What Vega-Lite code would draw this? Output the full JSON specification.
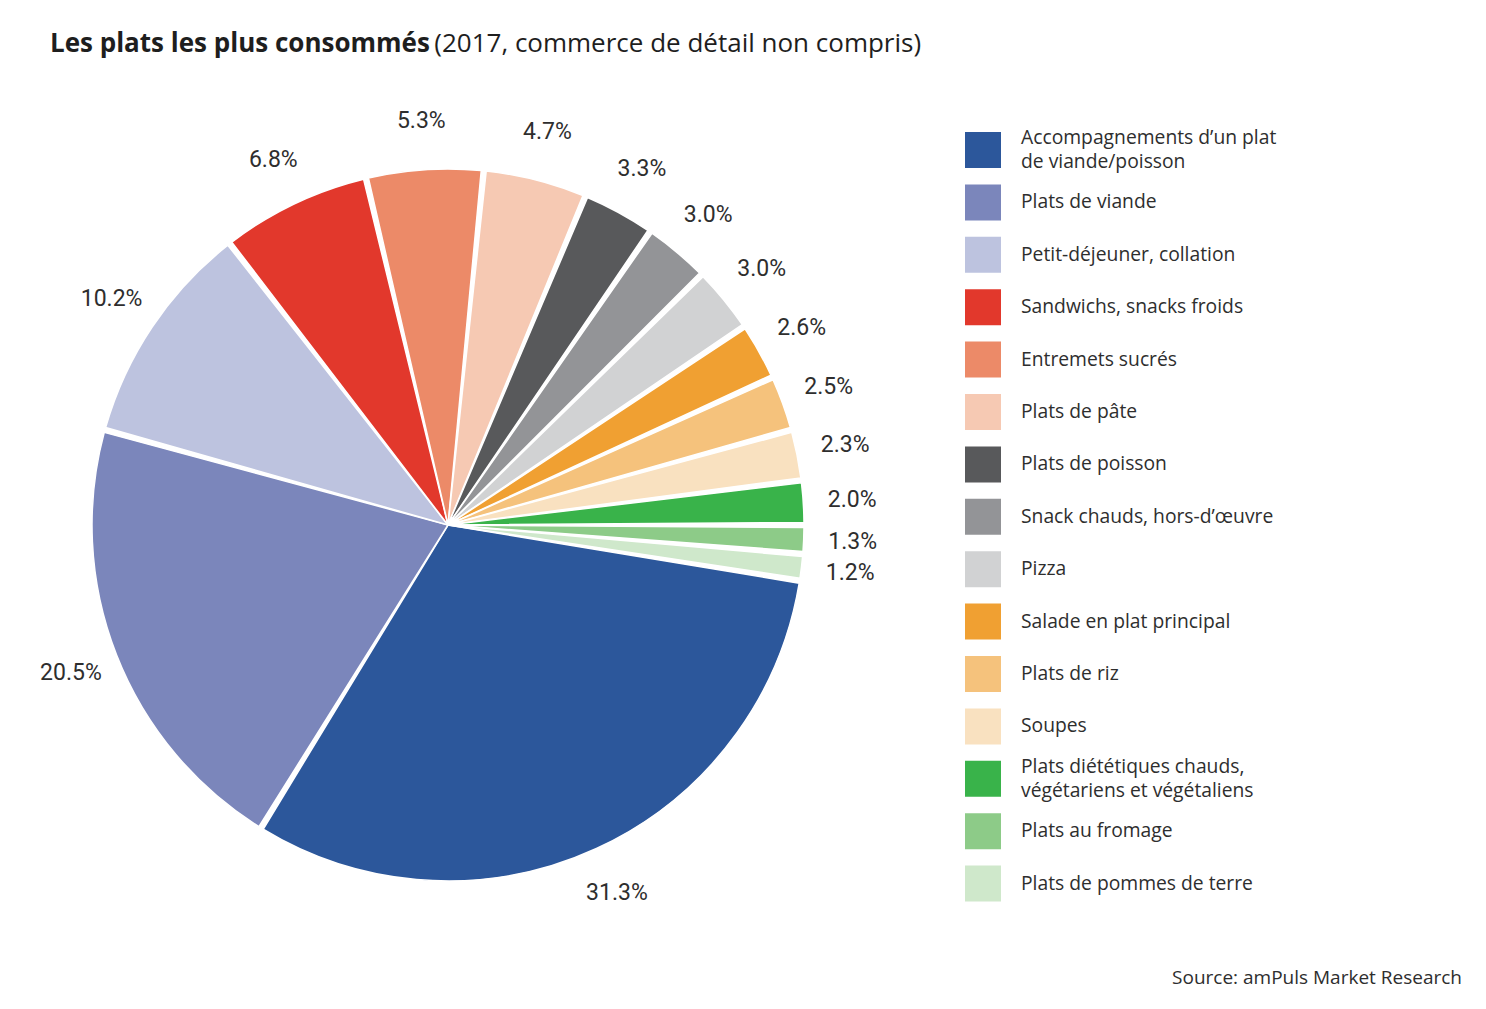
{
  "$schema": "https://vega.github.io/schema/vega-lite/v6.json",
  "background": "white",
  "padding": {"left": 15, "top": 31, "right": 5, "bottom": 5},
  "title": {
    "text": "Les plats les plus consommés",
    "subtitle": "\u200b\u2003\u2003\u2003\u2003\u2003\u2003\u2003\u2003\u2003\u2003\u2003\u2003\u2003\u2003\u00a0\u00a0\u00a0(2017, commerce de détail non compris)",
    "anchor": "start",
    "font": "Open Sans",
    "fontSize": 26,
    "fontWeight": "bold",
    "color": "#1e1e1e",
    "subtitleFont": "Open Sans",
    "subtitleFontSize": 26,
    "subtitleFontWeight": "normal",
    "subtitleColor": "#1e1e1e",
    "subtitlePadding": -26,
    "offset": 38,
    "dx": 35
  },
  "resolve": {"scale": {"color": "independent"}, "legend": {"color": "independent"}},
  "vconcat": [
    {
      "width": 866,
      "height": 860,
      "title": {
        "text": "Source: amPuls Market Research",
        "orient": "bottom",
        "anchor": "end",
        "frame": "group",
        "font": "Open Sans",
        "fontSize": 19,
        "fontWeight": "normal",
        "color": "#2e2e2e",
        "offset": 14,
        "dx": 581
      },
      "data": {
        "values": [
          {"plat": "Accompagnements d’un plat de viande/poisson", "part": 0.313},
          {"plat": "Plats de viande", "part": 0.205},
          {"plat": "Petit-déjeuner, collation", "part": 0.102},
          {"plat": "Sandwichs, snacks froids", "part": 0.068},
          {"plat": "Entremets sucrés", "part": 0.053},
          {"plat": "Plats de pâte", "part": 0.047},
          {"plat": "Plats de poisson", "part": 0.033},
          {"plat": "Snack chauds, hors-d’œuvre", "part": 0.030},
          {"plat": "Pizza", "part": 0.030},
          {"plat": "Salade en plat principal", "part": 0.026},
          {"plat": "Plats de riz", "part": 0.025},
          {"plat": "Soupes", "part": 0.023},
          {"plat": "Plats diététiques chauds, végétariens et végétaliens", "part": 0.020},
          {"plat": "Plats au fromage", "part": 0.013},
          {"plat": "Plats de pommes de terre", "part": 0.012}
        ]
      },
      "layer": [
        {
          "mark": {"type": "arc", "outerRadius": 356, "padAngle": 0.014, "stroke": "white", "strokeWidth": 1.5},
          "encoding": {
            "theta": {"field": "part", "type": "quantitative", "stack": true, "scale": {"range": [1.728, 8.011]}},
            "order": {"field": "part", "type": "quantitative", "sort": "descending"},
            "color": {
              "field": "plat",
              "type": "nominal",
              "scale": {
                "domain": [
                  "Accompagnements d’un plat de viande/poisson",
                  "Plats de viande",
                  "Petit-déjeuner, collation",
                  "Sandwichs, snacks froids",
                  "Entremets sucrés",
                  "Plats de pâte",
                  "Plats de poisson",
                  "Snack chauds, hors-d’œuvre",
                  "Pizza",
                  "Salade en plat principal",
                  "Plats de riz",
                  "Soupes",
                  "Plats diététiques chauds, végétariens et végétaliens",
                  "Plats au fromage",
                  "Plats de pommes de terre"
                ],
                "range": ["#2C579B", "#7B86BB", "#BDC3DF", "#E2382C", "#EC8A68", "#F6C9B3", "#58595B", "#939497", "#D1D2D3", "#F0A032", "#F5C27C", "#F9E1C0", "#39B34A", "#8DCB88", "#CFE8CB"]
              },
              "legend": {
                "title": null,
                "orient": "right",
                "offset": 47,
                "padding": 37,
                "symbolType": "square",
                "symbolSize": 1296,
                "symbolStrokeWidth": 0,
                "labelFont": "Open Sans",
                "labelFontSize": 19.3,
                "labelColor": "#2e2e2e",
                "labelOffset": 20,
                "labelLimit": 400,
                "gridAlign": "all",
                "rowPadding": 8.4,
                "labelBaseline": {"expr": "indexof(datum.label, 'Accompagnements') == 0 || indexof(datum.label, 'Plats diététiques') == 0 ? 'line-bottom' : 'middle'"},
                "labelExpr": "datum.label == 'Accompagnements d’un plat de viande/poisson' ? ['Accompagnements d’un plat', 'de viande/poisson'] : datum.label == 'Plats diététiques chauds, végétariens et végétaliens' ? ['Plats diététiques chauds,', 'végétariens et végétaliens'] : datum.label"
              }
            }
          }
        },
        {
          "mark": {"type": "text", "radius": 405, "font": "Roboto", "fontSize": 23, "fill": "#2e2e2e"},
          "encoding": {
            "theta": {"field": "part", "type": "quantitative", "stack": true},
            "order": {"field": "part", "type": "quantitative", "sort": "descending"},
            "text": {"field": "part", "type": "quantitative", "format": ".1%"}
          }
        }
      ]
    }
  ],
  "config": {
    "view": {"stroke": null},
    "concat": {"spacing": 0},
    "style": {"guide-label": {"lineHeight": 24}}
  }
}
